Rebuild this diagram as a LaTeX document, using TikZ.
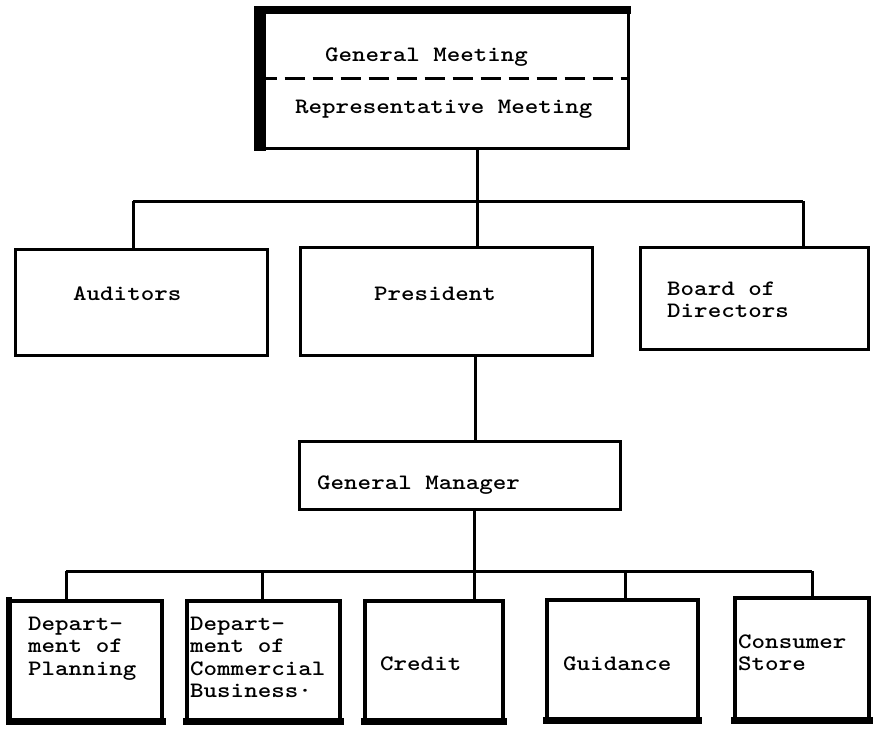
\documentclass[tikz,border=0pt]{standalone}
\usepackage{fontspec}
\usepackage{graphicx}
\newfontfamily\twfont{lmmonolt10-bold.otf}
\newcommand{\twtext}[1]{\scalebox{1.17}[1]{#1}}
\usetikzlibrary{calc}
\tikzset{
  box/.style={draw, rectangle, line width=3pt, inner sep=0pt},
  lowbox/.style={draw, rectangle, line width=4pt, inner sep=0pt, minimum height=120pt},
  conn/.style={line width=3pt},
  lbl/.style={anchor=base west, inner sep=0pt, font=\twfont\fontsize{22}{22}\selectfont}
}
\begin{document}
\begin{tikzpicture}[x=1pt,y=-1pt]
\useasboundingbox (0,0) rectangle (874,732);
% top box
\node[box, minimum width=370pt, minimum height=139pt] (top) at (443,78.5) {};
\fill ($(top.north west)+(-1.5,-1.5)$) rectangle ($(top.north east)+(1.5,6)$);
\fill ($(top.north west)+(-3,-1.5)$) rectangle ($(top.south west)+(9,1.5)$);
\draw[conn, dash pattern=on 20pt off 8pt] (top.west) -- (top.east);
\node[lbl] (gmeet) at (325,61) {\twtext{General Meeting}};
\node[lbl] (rmeet) at (295,113) {\twtext{Representative Meeting}};
% second row
\node[box, minimum width=252pt, minimum height=106pt] (aud) at (141,302) {};
\node[box, minimum width=292pt, minimum height=108pt] (pres) at (446,301) {};
\node[box, minimum width=228pt, minimum height=102pt] (board) at (754,298) {};
\node[lbl] (audt) at (73,300) {\twtext{Auditors}};
\node[lbl] (prest) at (374,300) {\twtext{President}};
\node[lbl] (boardt1) at (667,295) {\twtext{Board of}};
\node[lbl] (boardt2) at (667,317) {\twtext{Directors}};
% general manager
\node[box, minimum width=321pt, minimum height=68pt] (gm) at (459.5,475) {};
\node[lbl] (gmt) at (317,489) {\twtext{General Manager}};
% bottom row
\node[lowbox, minimum width=152pt] (b1) at (86,661) {};
\node[lowbox, minimum width=153pt] (b2) at (263.5,661) {};
\node[lowbox, minimum width=138pt] (b3) at (434,661) {};
\node[lowbox, minimum width=151pt] (b4) at (622.5,660) {};
\node[lowbox, minimum width=134pt, minimum height=122pt] (b5) at (802,659) {};
\foreach \b in {b1,b2,b3,b4,b5}{
  \fill ($(\b.south west)+(-2,2)$) rectangle ($(\b.south east)+(2,-5)$);
}
\fill ($(b1.north west)+(-2,-2)$) rectangle ($(b1.south west)+(4,2)$);
\node[lbl] (b1a) at (28,630) {\twtext{Depart-}};
\node[lbl] (b1b) at (28,652) {\twtext{ment of}};
\node[lbl] (b1c) at (28,675) {\twtext{Planning}};
\node[lbl] (b2a) at (190,630) {\twtext{Depart-}};
\node[lbl] (b2b) at (190,652) {\twtext{ment of}};
\node[lbl] (b2c) at (190,675) {\twtext{Commercial}};
\node[lbl] (b2d) at (190,697) {\twtext{Business·}};
\node[lbl] (b3a) at (380,670) {\twtext{Credit}};
\node[lbl] (b4a) at (563,670) {\twtext{Guidance}};
\node[lbl] (b5a) at (738,648) {\twtext{Consumer}};
\node[lbl] (b5b) at (738,670) {\twtext{Store}};
% connectors
\coordinate (ja) at (133,201);
\coordinate (jp) at (477,201);
\coordinate (jb) at (803,201);
\draw[conn] (top.south -| jp) -- (pres.north -| jp);
\draw[conn] (ja) -- (jb);
\draw[conn] (ja) -- (aud.north -| ja);
\draw[conn] (jb) -- (board.north -| jb);
\coordinate (jg) at (475,0);
\draw[conn] (pres.south -| jg) -- (gm.north -| jg);
\coordinate (k1) at (66,571);
\coordinate (k2) at (262,571);
\coordinate (k3) at (474,571);
\coordinate (k4) at (625,571);
\coordinate (k5) at (812,571);
\draw[conn] (gm.south -| k3) -- (k3);
\draw[conn] (k1) -- (k5);
\draw[conn] (k1) -- (b1.north -| k1);
\draw[conn] (k2) -- (b2.north -| k2);
\draw[conn] (k3) -- (b3.north -| k3);
\draw[conn] (k4) -- (b4.north -| k4);
\draw[conn] (k5) -- (b5.north -| k5);
\end{tikzpicture}
\end{document}
